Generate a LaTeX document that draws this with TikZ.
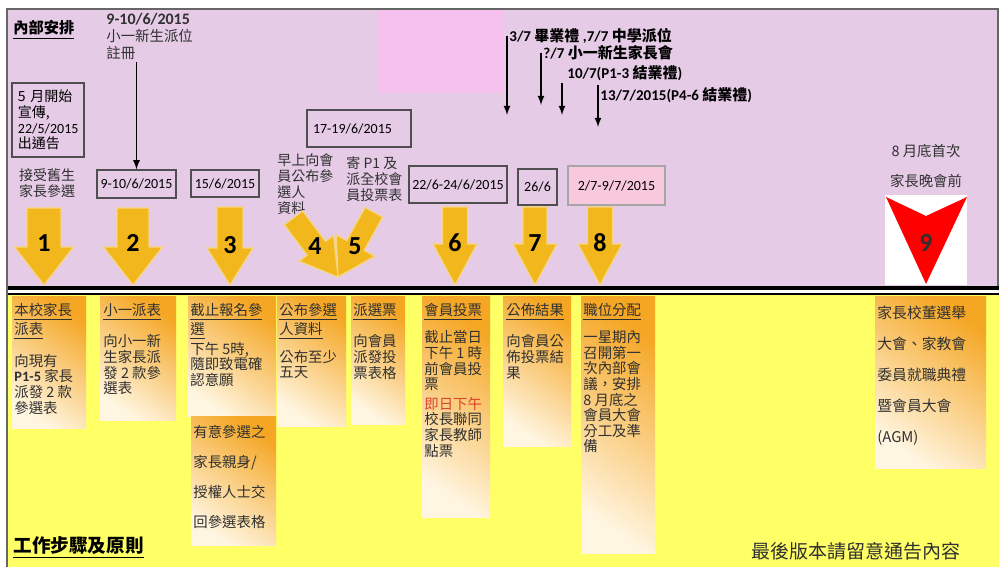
\documentclass[tikz,border=0pt]{standalone}
\usepackage{fontspec}
\setmainfont{Noto Sans CJK TC}
\newfontfamily\lat{Carlito}
\usepackage{tikz}
\usetikzlibrary{positioning,arrows}

\definecolor{lilac}{HTML}{E5CBE6}
\definecolor{pinkbox}{HTML}{F6C0EE}
\definecolor{datepink}{HTML}{F8C8DC}
\definecolor{lemon}{HTML}{FFFF66}
\definecolor{gold}{HTML}{F2B71C}
\definecolor{goldline}{HTML}{F7D67E}
\definecolor{cardorange}{HTML}{F5A623}
\definecolor{cardcream}{HTML}{FFF6E2}
\definecolor{ink}{HTML}{303030}
\definecolor{votered}{HTML}{D9442A}

\tikzset{
  rim/.style={draw=black!60, line width=0.6pt},
  heading/.style={inner sep=0pt, font=\bfseries\fontsize{7.6}{9}\selectfont},
  datebox/.style={draw=ink!85, fill=lilac, line width=0.6pt, inner sep=1pt,
    font=\lat\fontsize{7}{8}\selectfont},
  note/.style={align=left, inner sep=1pt, text=ink, font=\fontsize{7}{8}\selectfont},
  julnote/.style={anchor=north west, inner sep=1pt, font=\bfseries\fontsize{7.5}{8}\selectfont},
  card/.style={top color=cardorange, bottom color=cardcream, shading angle=-35},
  cardtext/.style={anchor=north west, align=left, inner sep=0pt, text=ink,
    font=\fontsize{7.2}{7.8}\selectfont},
  stepnum/.style={inner sep=0pt, font=\lat\bfseries\fontsize{13}{13}\selectfont},
  goldarrow/.style={fill=gold, draw=goldline, line width=0.6pt},
  pointer/.style={->, >=latex, line width=0.6pt},
}

% step arrow: tip x, tip y, shaft half width, head half width, length, head length, turn
\newcommand{\goldstep}[7]{%
  \begin{scope}[rotate around={#7:(#1,#2)}]
    \draw[goldarrow] (#1-#3,#2-#5) -- (#1+#3,#2-#5) -- (#1+#3,#2-#6) -- (#1+#4,#2-#6)
      -- (#1,#2) -- (#1-#4,#2-#6) -- (#1-#3,#2-#6) -- cycle;
  \end{scope}}

\begin{document}
\begin{tikzpicture}[x=0.5pt, y=-0.5pt]
  \useasboundingbox (0,0) rectangle (999,567);
  % the two bands
  \fill[lilac] (7,9) rectangle (998,286);
  \fill[pinkbox] (378,10) rectangle (503,93);
  \fill[lemon] (7,294.5) rectangle (999,567);
  \fill (7,286) rectangle (999,290);
  \fill (7,292.5) rectangle (999,294.5);
  \draw[rim] (7,567) -- (7,9) -- (998,9) -- (998,286);

  % internal arrangements
  \node[heading, anchor=west] (inner) at (13,30) {\underline{內部安排}};
  \node[note, anchor=north west, font=\fontsize{7.2}{8.5}\selectfont] (reg) at (104,11)
    {{\lat\bfseries\fontsize{8}{8.5}\selectfont 9-10/6/2015}\\小一新生派位\\註冊};
  \node[datebox, align=left, text width=30pt, inner xsep=3pt, minimum height=37pt,
    font=\fontsize{7}{7.8}\selectfont] (b1) at (48,120)
    {5 月開始\\宣傳,\\{\lat 22/5/2015}\\出通告};
  \node[note, align=center] (old) at (47,183) {接受舊生\\家長參選};
  \node[datebox, minimum width=39.5pt, minimum height=14pt] (b2) at (136.5,184) {9-10/6/2015};
  \node[datebox, minimum width=34pt, minimum height=13.5pt] (b3) at (225,183.5) {15/6/2015};
  \node[datebox, text width=46pt, inner xsep=3pt, minimum height=18.5pt] (b4) at (359,128.5) {17-19/6/2015};
  \node[note, anchor=north west] (n4) at (275,151) {早上向會\\員公布參\\選人\\資料};
  \node[note, anchor=north west] (n5) at (344,154) {寄 P1 及\\派全校會\\員投票表};
  \node[datebox, minimum width=49pt, minimum height=18.5pt] (b6) at (458,184.5) {22/6-24/6/2015};
  \node[datebox, minimum width=19.5pt, minimum height=18pt] (b7) at (537.5,187) {26/6};
  \node[datebox, fill=datepink, draw=black!35, minimum width=48.5pt, minimum height=19.5pt]
    (b8) at (616.5,185.5) {2/7-9/7/2015};
  \draw[pointer] (reg.south -| b2.north) -- (b2.north);

  % July events
  \node[julnote] (jul1) at (507,26) {{\lat 3/7} 畢業禮 {\lat ,7/7} 中學派位};
  \node[julnote] (jul2) at (541,43) {{\lat ?/7} 小一新生家長會};
  \node[julnote, inner xsep=2.5pt] (jul3) at (562,63) {{\lat 10/7(P1-3} 結業禮{\lat )}};
  \node[julnote] (jul4) at (598,85) {{\lat 13/7/2015(P4-6} 結業禮{\lat )}};
  \coordinate (e1) at (507,115);
  \coordinate (e2) at (541,105);
  \coordinate (e3) at (562,115);
  \coordinate (e4) at (598,127);
  \draw[pointer] (jul1.west) -- (e1);
  \draw[pointer] (jul2.west) -- (e2);
  \draw[pointer] (jul3.south west) -- (e3);
  \draw[pointer] (jul4.north west) -- (e4);

  % first parents' evening
  \node[note, align=center, font=\fontsize{7.2}{15}\selectfont] (aug) at (926,166) {8 月底首次\\家長晚會前};
  \fill[white] (885,195) rectangle (967,285);
  \fill[red] (886,197) -- (926,216) -- (967,197) -- (926,284) -- cycle;
  \node[stepnum, text=ink] (s9) at (926,243) {9};

  % numbered steps
  \goldstep{44}{285}{17}{29.5}{77}{38}{0}
  \goldstep{133}{285}{16}{29.5}{77}{38}{0}
  \goldstep{230}{285}{13}{23}{78}{37}{0}
  \goldstep{338}{277}{11.5}{21.5}{74}{36}{37}
  \goldstep{338}{277}{10}{22}{74}{36}{-29}
  \goldstep{455}{285}{12.5}{22}{78}{41}{0}
  \goldstep{535}{285}{12}{22}{78}{41}{0}
  \goldstep{600}{285}{12.5}{22}{78}{41}{0}
  \node[stepnum] (s1) at (44,243) {1};
  \node[stepnum] (s2) at (133,243) {2};
  \node[stepnum] (s3) at (230,245) {3};
  \node[stepnum] (s4) at (315,246) {4};
  \node[stepnum] (s5) at (355,246) {5};
  \node[stepnum] (s6) at (455,243) {6};
  \node[stepnum] (s7) at (535,243) {7};
  \node[stepnum] (s8) at (600,243) {8};

  % work steps
  \shade[card] (12,296) rectangle (86,428);
  \shade[card] (100,296) rectangle (176,420);
  \shade[card] (188,296) rectangle (276,416);
  \shade[card] (191,416) rectangle (276,545);
  \shade[card] (277,296) rectangle (346,426);
  \shade[card] (351,296) rectangle (405,424);
  \shade[card] (422,296) rectangle (490,517);
  \shade[card] (503,296) rectangle (571,446);
  \shade[card] (581,296) rectangle (655,553);
  \shade[card] (875,296) rectangle (986,468);

  \node[cardtext] (t1) at (14,303)
    {\underline{本校家長}\\\underline{派表}\\[6pt]向現有\\{\lat\bfseries P1-5} 家長\\派發 2 款\\參選表};
  \node[cardtext] (t2) at (103,303)
    {\underline{小一派表}\\[6pt]向小一新\\生家長派\\發 2 款參\\選表};
  \node[cardtext] (t3) at (190,303)
    {\underline{截止報名參}\\\underline{選}\\下午 5時,\\隨即致電確\\認意願};
  \node[cardtext, font=\fontsize{7.2}{15}\selectfont] (t3b) at (193,425)
    {有意參選之\\家長親身/\\授權人士交\\回參選表格};
  \node[cardtext] (t4) at (279,303)
    {\underline{公布參選}\\\underline{人資料}\\[4pt]公布至少\\五天};
  \node[cardtext] (t5) at (353,303)
    {\underline{派選票}\\[6pt]向會員\\派發投\\票表格};
  \node[cardtext] (t6) at (424,303)
    {\underline{會員投票}\\[4pt]截止當日\\下午 1 時\\前會員投\\票\\[2pt]
     {\color{votered}即日下午}\\校長聯同\\家長教師\\點票};
  \node[cardtext] (t7) at (506,303)
    {\underline{公佈結果}\\[6pt]向會員公\\佈投票結\\果};
  \node[cardtext] (t8) at (583,303)
    {\underline{職位分配}\\[4pt]一星期內\\召開第一\\次內部會\\議，安排\\8 月底之\\會員大會\\分工及準\\備};
  \node[cardtext, font=\fontsize{7.4}{15.5}\selectfont] (t9) at (877,306)
    {家長校董選舉\\大會、家教會\\委員就職典禮\\暨會員大會\\(AGM)};

  \node[heading, anchor=west, font=\bfseries\fontsize{9.3}{11}\selectfont] (steps) at (13,548)
    {\underline{工作步驟及原則}};
  \node[inner sep=0pt, text=ink, font=\fontsize{9.5}{11}\selectfont] (final) at (856,551)
    {最後版本請留意通告內容};
\end{tikzpicture}
\end{document}
